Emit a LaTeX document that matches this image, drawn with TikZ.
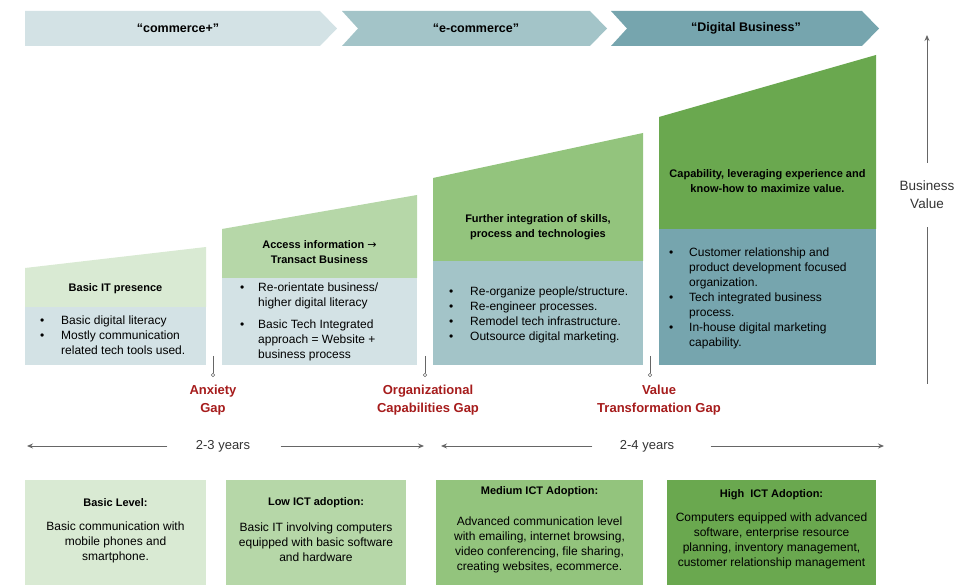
\documentclass[tikz,border=0pt]{standalone}
\usepackage{fontspec}
\setmainfont{Liberation Sans}
\newfontfamily\arrowfont{DejaVu Sans}
\usetikzlibrary{arrows.meta, positioning, calc}

\definecolor{PhaseA}{HTML}{D3E2E5}
\definecolor{PhaseB}{HTML}{A3C4C8}
\definecolor{PhaseC}{HTML}{76A5AE}
\definecolor{GreenA}{HTML}{D9EAD3}
\definecolor{GreenB}{HTML}{B6D7A8}
\definecolor{GreenC}{HTML}{93C47D}
\definecolor{GreenD}{HTML}{6AA84F}
\definecolor{GapRed}{HTML}{A61C1C}
\definecolor{AxisGray}{HTML}{666666}

\tikzset{
  phase/.style={font=\bfseries\fontsize{12.5}{15}\selectfont},
  title/.style={align=center, font=\bfseries\fontsize{11}{15}\selectfont},
  body/.style={align=center, font=\fontsize{12}{15}\selectfont},
  bullets/.style={inner sep=0pt, anchor=base west, font=\fontsize{12}{15}\selectfont},
  gap/.style={align=center, text=GapRed, font=\bfseries\fontsize{13}{18}\selectfont},
  marker/.style={AxisGray, line width=0.6pt},
  span/.style={AxisGray, line width=0.9pt, -{Stealth[length=6pt, width=5pt]}},
}

\begin{document}
\begin{tikzpicture}[x=1pt, y=-1pt, >=Stealth]
    \useasboundingbox (0,0) rectangle (967,585);

    % Phase chevrons
    \fill [PhaseA] (25,11) -- (320,11) -- (337,28.5) -- (320,46) -- (25,46) -- cycle;
    \fill [PhaseB] (342,11) -- (590,11) -- (607,28.5) -- (590,46) -- (342,46) -- (358,28.5) -- cycle;
    \fill [PhaseC] (611,11) -- (862,11) -- (879,28.5) -- (862,46) -- (611,46) -- (627,28.5) -- cycle;
    \node [phase] (commerce) at (178,28.5) {“commerce+”};
    \node [phase] (ecommerce) at (476,28.5) {“e-commerce”};
    \node [phase] (digital) at (746,28.5) {“Digital Business”};

    % Stage 1
    \fill [GreenA] (25,268) -- (206,247) -- (206,307) -- (25,307) -- cycle;
    \fill [PhaseA] (25,307) rectangle (206,365);
    \node [title] (presence) at (115.5,289) {Basic IT presence};
    \node [bullets] (presenceList) at (40,325) {\begin{tabular}[t]{@{}p{21pt}@{}l@{}}
        \textbullet & Basic digital literacy\\
        \textbullet & Mostly communication\\
                    & related tech tools used.
      \end{tabular}};

    % Stage 2
    \fill [GreenB] (222,229) -- (417,195) -- (417,278) -- (222,278) -- cycle;
    \fill [PhaseA] (222,278) rectangle (417,365);
    \node [title] (access) at (319.5,252.5) {Access information {\arrowfont\mdseries →}\\Transact Business};
    \node [bullets] (accessList) at (240,292) {\begin{tabular}[t]{@{}p{18pt}@{}l@{}}
        \textbullet & Re-orientate business/\\
                    & higher digital literacy\\[7pt]
        \textbullet & Basic Tech Integrated\\
                    & approach = Website +\\
                    & business process
      \end{tabular}};

    % Stage 3
    \fill [GreenC] (433,178) -- (643,133) -- (643,261) -- (433,261) -- cycle;
    \fill [PhaseB] (433,261) rectangle (643,365);
    \node [title] (further) at (538,227.5) {Further integration of skills,\\process and technologies};
    \node [bullets] (furtherList) at (449,296) {\begin{tabular}[t]{@{}p{21pt}@{}l@{}}
        \textbullet & Re-organize people/structure.\\
        \textbullet & Re-engineer processes.\\
        \textbullet & Remodel tech infrastructure.\\
        \textbullet & Outsource digital marketing.
      \end{tabular}};

    % Stage 4
    \fill [GreenD] (659,117) -- (876,55) -- (876,229) -- (659,229) -- cycle;
    \fill [PhaseC] (659,229) rectangle (876,365);
    \node [title] (capability) at (767.5,181.5) {Capability, leveraging experience and\\know-how to maximize value.};
    \node [bullets] (capabilityList) at (669,257) {\begin{tabular}[t]{@{}p{20pt}@{}l@{}}
        \textbullet & Customer relationship and\\
                    & product development focused\\
                    & organization.\\
        \textbullet & Tech integrated business\\
                    & process.\\
        \textbullet & In-house digital marketing\\
                    & capability.
      \end{tabular}};

    % Business value axis
    \node [align=center, inner ysep=18pt, font=\fontsize{13.5}{18}\selectfont, text=black!80] (value) at (927,195) {Business\\Value};
    \coordinate (valueLow) at (927,384);
    \coordinate (valueTop) at (927,35);
    \draw [AxisGray, line width=0.9pt] (valueLow) -- (value);
    \draw [span] (value) -- (valueTop);

    % Gaps between the stages
    \foreach \x in {213, 425, 650} {
      \draw [marker] (\x,356) -- (\x,373);
      \draw [marker, fill=white] (\x,375) circle (1.8pt);
    }
    \node [gap] (anxiety) at (213,400.5) {Anxiety\\Gap};
    \node [gap] (capGap) at (428,400.5) {Organizational\\Capabilities Gap};
    \node [gap] (valueGap) at (659,400.5) {Value\\Transformation Gap};

    % Time spans
    \node [font=\fontsize{13}{15}\selectfont, text=black!80] (shortSpan) at (223,446) {2-3 years};
    \node [font=\fontsize{13}{15}\selectfont, text=black!80] (longSpan) at (647,446) {2-4 years};
    \coordinate (shortLeft) at (27,446);
    \coordinate (shortRight) at (424,446);
    \coordinate (longLeft) at (441,446);
    \coordinate (longRight) at (884,446);
    \draw [span] (shortSpan.west) ++(-25,0) -- (shortLeft);
    \draw [span] (shortSpan.east) ++(27,0) -- (shortRight);
    \draw [span] (longSpan.west) ++(-24,0) -- (longLeft);
    \draw [span] (longSpan.east) ++(33,0) -- (longRight);

    % ICT adoption levels
    \fill [GreenA] (25,480) rectangle (206,585);
    \fill [GreenB] (226,480) rectangle (406,585);
    \fill [GreenC] (436,480) rectangle (643,585);
    \fill [GreenD] (667,480) rectangle (876,585);

    \node [title] (basicLevel) at (115.5,503) {Basic Level:};
    \node [body] (basicText) at (115.5,542) {Basic communication with\\mobile phones and\\smartphone.};
    \node [title] (lowLevel) at (316,503) {Low ICT adoption:};
    \node [body] (lowText) at (316,542) {Basic IT involving computers\\equipped with basic software\\and hardware};
    \node [title] (mediumLevel) at (539.5,492) {Medium ICT Adoption:};
    \node [body] (mediumText) at (539.5,544.5) {Advanced communication level\\with emailing, internet browsing,\\video conferencing, file sharing,\\creating websites, ecommerce.};
    \node [title] (highLevel) at (771.5,495) {High\ \ ICT Adoption:};
    \node [body] (highText) at (771.5,540.5) {Computers equipped with advanced\\software, enterprise resource\\planning, inventory management,\\customer relationship management};
\end{tikzpicture}
\end{document}
